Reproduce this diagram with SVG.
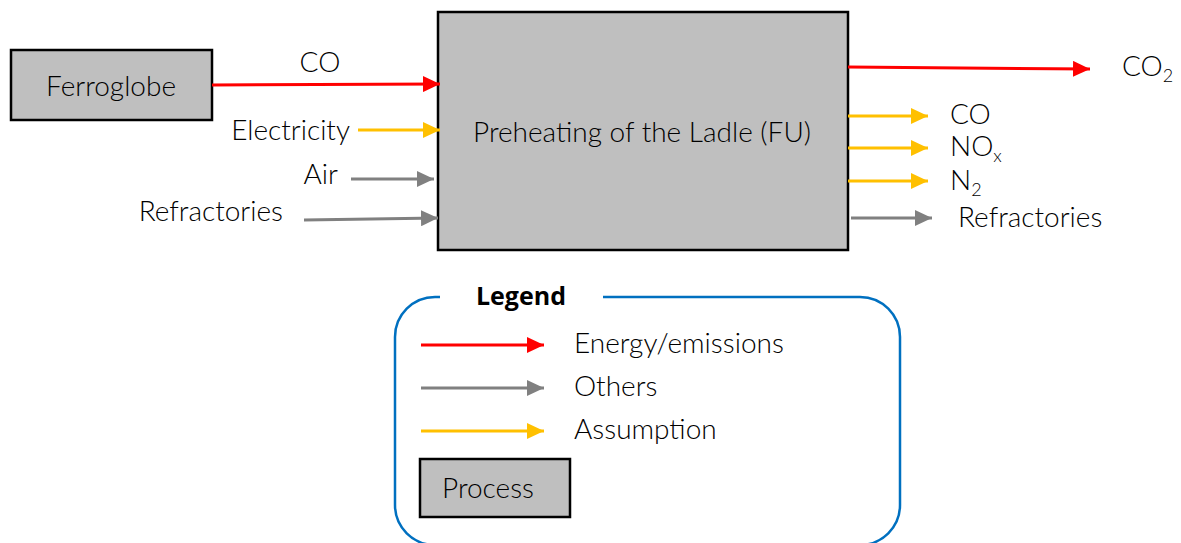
<svg xmlns="http://www.w3.org/2000/svg" width="1181" height="543" viewBox="0 0 1181 543">
  <style>
    .lbl { font-family: Lato, "Open Sans", sans-serif; font-weight: 300; font-size: 28px; fill: #000; }
    .sub { font-size: 18px; }
    .box { fill: #bfbfbf; stroke: #000; stroke-width: 2.5; }
    .red { stroke: #ff0000; stroke-width: 3; fill: none; marker-end: url(#hRed); }
    .yel { stroke: #ffc000; stroke-width: 3; fill: none; marker-end: url(#hYel); }
    .gry { stroke: #808080; stroke-width: 3; fill: none; marker-end: url(#hGry); }
  </style>
  <defs>
    <marker id="hRed" markerUnits="userSpaceOnUse" markerWidth="18" markerHeight="16" refX="17" refY="8" orient="auto">
      <path d="M0,0 L17,8 L0,16 Z" fill="#ff0000"/>
    </marker>
    <marker id="hYel" markerUnits="userSpaceOnUse" markerWidth="18" markerHeight="16" refX="17" refY="8" orient="auto">
      <path d="M0,0 L17,8 L0,16 Z" fill="#ffc000"/>
    </marker>
    <marker id="hGry" markerUnits="userSpaceOnUse" markerWidth="18" markerHeight="16" refX="17" refY="8" orient="auto">
      <path d="M0,0 L17,8 L0,16 Z" fill="#808080"/>
    </marker>
  </defs>
  <rect width="1181" height="543" fill="#fff"/>

  <g id="ferroglobe">
    <rect class="box" x="11" y="50" width="201" height="70"/>
    <text class="lbl" x="111" y="96" text-anchor="middle">Ferroglobe</text>
  </g>

  <g id="preheating">
    <rect class="box" x="438" y="12" width="410" height="238"/>
    <text class="lbl" x="642" y="142" text-anchor="middle">Preheating of the Ladle (FU)</text>
  </g>

  <g id="connectors">
    <!-- inputs -->
    <path class="red" d="M212,85 L440,84"/>
    <path class="yel" d="M358,130 L440,130"/>
    <path class="gry" d="M351,179 L434,179"/>
    <path class="gry" d="M304,220 L438,218"/>
    <!-- outputs -->
    <path class="red" d="M848,67 L1090,69"/>
    <path class="yel" d="M848,116 L928,116"/>
    <path class="yel" d="M848,148 L928,148"/>
    <path class="yel" d="M848,181 L928,181"/>
    <path class="gry" d="M851,218 L932,218"/>
  </g>

  <g id="flow-labels">
    <text class="lbl" x="320" y="72" text-anchor="middle">CO</text>
    <text class="lbl" x="350" y="140" text-anchor="end">Electricity</text>
    <text class="lbl" x="338" y="184" text-anchor="end">Air</text>
    <text class="lbl" x="283" y="221" text-anchor="end">Refractories</text>
    <text class="lbl" x="1122" y="76">CO<tspan class="sub" dy="6">2</tspan></text>
    <text class="lbl" x="950" y="124">CO</text>
    <text class="lbl" x="950" y="156">NO<tspan class="sub" dy="6">x</tspan></text>
    <text class="lbl" x="950" y="190">N<tspan class="sub" dy="6">2</tspan></text>
    <text class="lbl" x="958" y="227">Refractories</text>
  </g>

  <g id="legend">
    <path d="M440,297 L435,297 A40,40 0 0 0 395,337 L395,505 A40,40 0 0 0 435,545 L860,545 A40,40 0 0 0 900,505 L900,337 A40,40 0 0 0 860,297 L603,297" fill="none" stroke="#0070c0" stroke-width="2.5"/>
    <text x="521" y="305" text-anchor="middle" font-family="'Open Sans', 'Liberation Sans', sans-serif" font-weight="bold" font-size="25" fill="#000">Legend</text>
    <path class="red" d="M421,345 L544,345"/>
    <path class="gry" d="M421,388 L544,388"/>
    <path class="yel" d="M421,431 L544,431"/>
    <text class="lbl" x="574" y="353">Energy/emissions</text>
    <text class="lbl" x="574" y="396">Others</text>
    <text class="lbl" x="574" y="439">Assumption</text>
    <g id="legend-process">
      <rect class="box" x="420" y="459" width="150" height="58"/>
      <text class="lbl" x="442" y="498">Process</text>
    </g>
  </g>
</svg>
